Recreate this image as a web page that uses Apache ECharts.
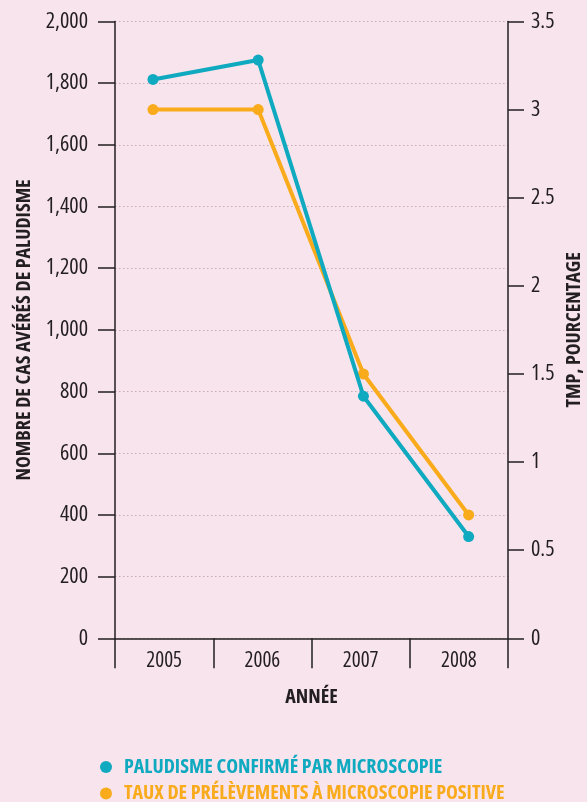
<!DOCTYPE html>
<html>
<head>
<meta charset="utf-8">
<script src="https://cdn.jsdelivr.net/npm/echarts@6/dist/echarts.min.js"></script>
<style>
  html, body { margin: 0; padding: 0; background: #f7e4ec; }
  #chart { width: 587px; height: 802px; }
</style>
</head>
<body>
<div id="chart"></div>
<script>
// Malaria cases (left axis) and positivity rate of microscopy samples (right axis)
var years = ['2005', '2006', '2007', '2008'];
var confirmedCases = [1812, 1875, 785, 330];
var positiveRate = [3.0, 3.0, 1.5, 0.7];
var casesTicks = [0, 200, 400, 600, 800, 1000, 1200, 1400, 1600, 1800, 2000];
var rateTicks = [0, 0.5, 1, 1.5, 2, 2.5, 3, 3.5];

var nameCases = 'PALUDISME CONFIRMÉ PAR MICROSCOPIE';
var nameRate = 'TAUX DE PRÉLÈVEMENTS À MICROSCOPIE POSITIVE';

// narrow humanist face: Open Sans on its condensed width
var FONT = '"Open Sans", "Noto Sans", sans-serif';
var NARROW = 'condensed';
var INK = '#231f20';
var TEAL = '#0fa9c0';
var ORANGE = '#f9ab1c';

var chart = echarts.init(document.getElementById('chart'));

var axisLine = { show: true, lineStyle: { color: INK, width: 1.5 } };
var tickStyle = { color: INK, width: 1.5 };
var nameStyle = { color: INK, fontSize: 20, fontWeight: 'bold', fontStyle: NARROW, fontFamily: FONT };
var tickText = { color: INK, fontSize: 22, fontStyle: NARROW, fontFamily: FONT };

function legendFor(name, color, top) {
  return {
    orient: 'horizontal',
    left: 95,
    top: top,
    itemWidth: 26,
    itemHeight: 12,
    icon: 'circle',
    data: [{ name: name, textStyle: { color: color } }],
    textStyle: { fontFamily: FONT, fontSize: 20, fontWeight: 'bold', fontStyle: NARROW }
  };
}

chart.setOption({
  backgroundColor: '#f7e4ec',
  animation: false,
  textStyle: { fontFamily: FONT },
  grid: { left: 115, right: 79, top: 21.5, bottom: 163.7, containLabel: false, outerBoundsMode: 'none' },
  legend: [
    legendFor(nameCases, TEAL, 752),
    legendFor(nameRate, ORANGE, 778.5)
  ],
  xAxis: [
    {
      type: 'category',
      data: years,
      boundaryGap: true,
      position: 'bottom',
      axisLine: axisLine,
      axisTick: { show: true, length: 30, inside: false, lineStyle: tickStyle },
      axisLabel: Object.assign({ margin: 12, fontSize: 21 }, { color: INK, fontStyle: NARROW, fontFamily: FONT }),
      name: 'ANNÉE',
      nameLocation: 'middle',
      nameGap: 49,
      nameMoveOverlap: false,
      nameTextStyle: nameStyle
    },
    {
      // year scale used to place the line points
      type: 'value',
      min: 2004.639,
      max: 2008.374,
      show: false
    }
  ],
  yAxis: [
    {
      type: 'value',
      min: casesTicks[0],
      max: casesTicks[casesTicks.length - 1],
      interval: casesTicks[1] - casesTicks[0],
      position: 'left',
      axisLine: axisLine,
      axisTick: { show: true, length: 17, inside: false, lineStyle: tickStyle },
      axisLabel: Object.assign({
        margin: 27,
        formatter: function (v) { return v.toLocaleString('en-US'); }
      }, tickText),
      splitLine: { show: true, lineStyle: { color: '#c9a9b6', type: [1.5, 2.5], width: 1 } },
      name: 'NOMBRE DE CAS AVÉRÉS DE PALUDISME',
      nameLocation: 'middle',
      nameRotate: 90,
      nameGap: 81,
      nameMoveOverlap: false,
      nameTextStyle: nameStyle
    },
    {
      type: 'value',
      min: rateTicks[0],
      max: rateTicks[rateTicks.length - 1],
      interval: rateTicks[1] - rateTicks[0],
      position: 'right',
      axisLine: axisLine,
      axisTick: { show: true, length: 16, inside: false, lineStyle: tickStyle },
      axisLabel: Object.assign({ margin: 23 }, tickText),
      splitLine: { show: false },
      name: 'TMP, POURCENTAGE',
      nameLocation: 'middle',
      nameRotate: 90,
      nameGap: 56,
      nameMoveOverlap: false,
      nameTextStyle: nameStyle
    }
  ],
  series: [
    {
      name: nameCases,
      type: 'line',
      xAxisIndex: 1,
      yAxisIndex: 0,
      data: years.map(function (y, i) { return [Number(y), confirmedCases[i]]; }),
      symbol: 'circle',
      symbolSize: 11,
      lineStyle: { color: TEAL, width: 4 },
      itemStyle: { color: TEAL },
      z: 3
    },
    {
      name: nameRate,
      type: 'line',
      xAxisIndex: 1,
      yAxisIndex: 1,
      data: years.map(function (y, i) { return [Number(y), positiveRate[i]]; }),
      symbol: 'circle',
      symbolSize: 11,
      lineStyle: { color: ORANGE, width: 4 },
      itemStyle: { color: ORANGE },
      z: 2
    }
  ]
});
</script>
</body>
</html>
